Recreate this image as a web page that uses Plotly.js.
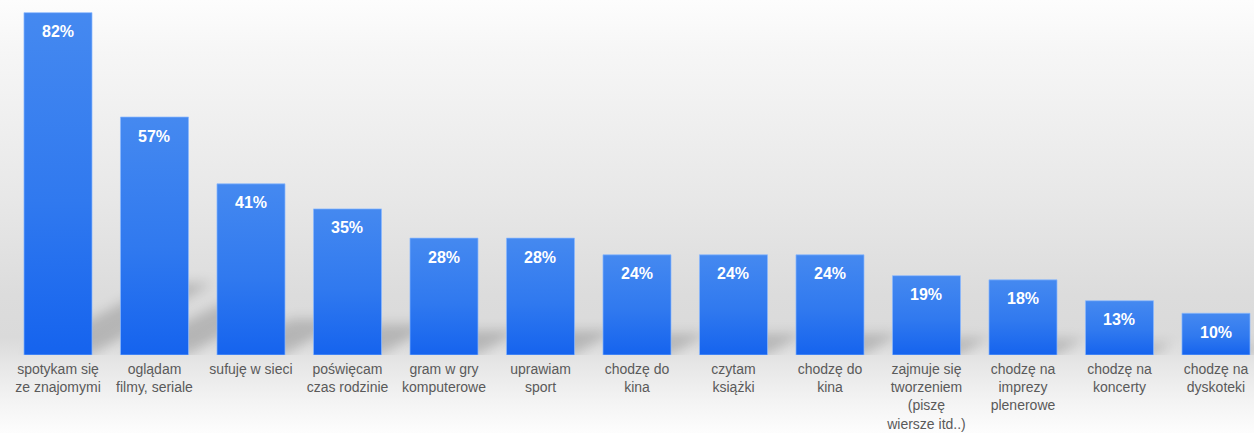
<!DOCTYPE html>
<html>
<head>
<meta charset="utf-8">
<script src="https://cdn.plot.ly/plotly-3.0.1.min.js"></script>
<style>
  html, body { margin: 0; padding: 0; }
  body {
    width: 1254px; height: 433px; overflow: hidden;
    background: linear-gradient(to bottom, #fdfdfd 0%, #f6f6f6 12%, #e8e8e8 45%, #dcdcdc 68%, #dadada 78%, #e6e6e6 84%, #f4f4f4 93%, #fdfdfd 100%);
  }
  #chart { width: 1254px; height: 433px; }
  .shapelayer path { filter: blur(6px); }
</style>
</head>
<body>
<div id="chart"></div>
<script>
const categories = [
  "spotykam się<br>ze znajomymi",
  "oglądam<br>filmy, seriale",
  "sufuję w sieci",
  "poświęcam<br>czas rodzinie",
  "gram w gry<br>komputerowe",
  "uprawiam<br>sport",
  "chodzę do<br>kina",
  "czytam<br>książki",
  "chodzę do<br>kina",
  "zajmuje się<br>tworzeniem<br>(piszę<br>wiersze itd..)",
  "chodzę na<br>imprezy<br>plenerowe",
  "chodzę na<br>koncerty",
  "chodzę na<br>dyskoteki"
];
const values = [82, 57, 41, 35, 28, 28, 24, 24, 24, 19, 18, 13, 10];
const valueLabels = ["82%", "57%", "41%", "35%", "28%", "28%", "24%", "24%", "24%", "19%", "18%", "13%", "10%"];

const idx = categories.map((c, i) => i);
const barW = 0.705;

const trace = {
  type: "bar",
  x: idx,
  y: values,
  width: barW,
  marker: { color: "#2a74ef", line: { color: "rgba(140,185,255,0.7)", width: 1 } },
  hoverinfo: "none"
};

const annotations = values.map((v, i) => ({
  x: i, y: v, xref: "x", yref: "y",
  text: valueLabels[i],
  showarrow: false,
  yanchor: "middle",
  yshift: -19,
  font: { family: "Liberation Sans, Arial, sans-serif", size: 16, color: "#ffffff", weight: "bold" }
}));

// soft floor shadows cast by each bar toward the upper right
const shapes = values.map((v, i) => {
  const dx = 0.0152 * v;
  const dy = 0.21 * v;
  const l = i - barW / 2, r = i + barW / 2;
  return {
    type: "path", xref: "x", yref: "y", layer: "below",
    path: `M ${l} 0 L ${r} 0 L ${r + dx} ${dy} L ${l + dx + 0.15} ${dy} Z`,
    fillcolor: "rgba(0,0,0,0.17)",
    line: { width: 0 }
  };
});

const layout = {
  width: 1254, height: 433,
  margin: { l: 0, r: 0, t: 0, b: 78 },
  paper_bgcolor: "rgba(0,0,0,0)",
  plot_bgcolor: "rgba(0,0,0,0)",
  showlegend: false,
  xaxis: {
    type: "linear",
    range: [-0.601, 12.394],
    tickmode: "array",
    tickvals: idx,
    ticktext: categories,
    showgrid: false, zeroline: false, showline: false,
    ticks: "",
    ticklabelstandoff: 4,
    tickfont: { family: "Liberation Sans, Arial, sans-serif", size: 14, color: "#5a5a5a" },
    automargin: false,
    fixedrange: true
  },
  yaxis: {
    range: [0, 85.03],
    visible: false,
    showgrid: false, zeroline: false,
    fixedrange: true
  },
  annotations: annotations,
  shapes: shapes
};

Plotly.newPlot("chart", [trace], layout, { staticPlot: true, displayModeBar: false }).then(gd => {
  const svg = gd.querySelector("svg.main-svg");
  const ns = "http://www.w3.org/2000/svg";
  let defs = svg.querySelector("defs");
  if (!defs) { defs = document.createElementNS(ns, "defs"); svg.insertBefore(defs, svg.firstChild); }
  const g = document.createElementNS(ns, "linearGradient");
  g.setAttribute("id", "barGrad");
  g.setAttribute("x1", "0"); g.setAttribute("y1", "0");
  g.setAttribute("x2", "0"); g.setAttribute("y2", "1");
  [["0%", "#4589f0"], ["55%", "#3079ef"], ["100%", "#1563ee"]].forEach(([o, c]) => {
    const s = document.createElementNS(ns, "stop");
    s.setAttribute("offset", o); s.setAttribute("stop-color", c);
    g.appendChild(s);
  });
  defs.appendChild(g);
  gd.querySelectorAll(".barlayer .point path").forEach(p => { p.style.fill = "url(#barGrad)"; });
});
</script>
</body>
</html>
